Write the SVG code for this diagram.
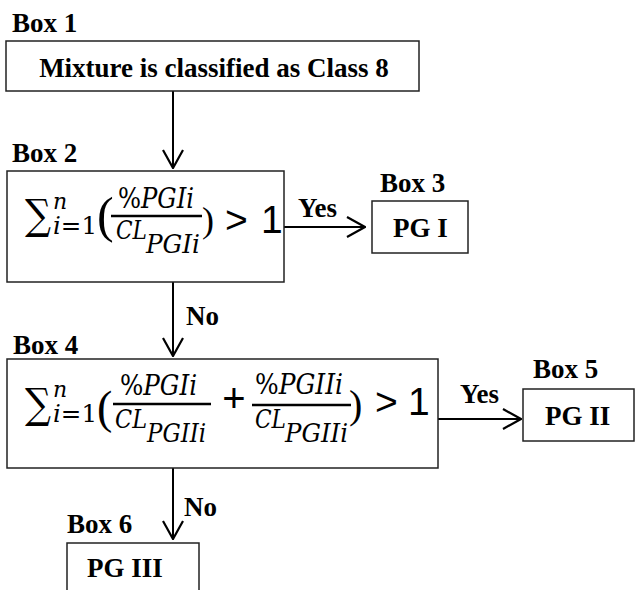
<svg xmlns="http://www.w3.org/2000/svg" width="635" height="590" viewBox="0 0 635 590">
<style>
.box{fill:#fff;stroke:#222;stroke-width:1.5}
.lbl{font-family:"Liberation Serif","Times New Roman",serif;font-weight:bold;font-size:27px;fill:#000}
.mi{font-family:"DejaVu Serif",serif;font-style:italic;fill:#000}
.mu{font-family:"DejaVu Serif",serif;fill:#000}
.mp{font-family:"Liberation Serif","Times New Roman",serif;fill:#000}
.ms{font-family:"Liberation Sans",Arial,sans-serif;fill:#000}
.bar{stroke:#000;stroke-width:2.5}
.conn{stroke:#000;stroke-width:2;fill:none}
</style>
<defs>
<marker id="arr" viewBox="0 0 20 22" refX="19" refY="11" markerWidth="20" markerHeight="22" markerUnits="userSpaceOnUse" orient="auto">
<path d="M1,1 L19,11 L1,21" fill="none" stroke="#000" stroke-width="2.2"/>
</marker>
</defs>
<rect width="635" height="590" fill="#fff"/>

<g id="connectors">
<line class="conn" x1="173" y1="91" x2="173" y2="168" marker-end="url(#arr)"/>
<line class="conn" x1="284" y1="227" x2="365" y2="227" marker-end="url(#arr)"/>
<line class="conn" x1="173" y1="282" x2="173" y2="356" marker-end="url(#arr)"/>
<line class="conn" x1="438" y1="419" x2="521" y2="419" marker-end="url(#arr)"/>
<line class="conn" x1="173" y1="468" x2="173" y2="539" marker-end="url(#arr)"/>
<text class="lbl" x="298" y="217">Yes</text>
<text class="lbl" x="186" y="325">No</text>
<text class="lbl" x="460" y="403">Yes</text>
<text class="lbl" x="184" y="516">No</text>
</g>

<g id="box1">
<text class="lbl" x="12" y="32">Box 1</text>
<rect class="box" x="6" y="41" width="413" height="50"/>
<text class="lbl" x="214" y="77" text-anchor="middle">Mixture is classified as Class 8</text>
</g>

<g id="box2">
<text class="lbl" x="12" y="162">Box 2</text>
<rect class="box" x="7" y="171" width="277" height="111"/>
<text class="mu" x="25" y="229" font-size="42" textLength="26" lengthAdjust="spacingAndGlyphs">∑</text>
<text class="mi" x="53" y="209" font-size="22">n</text>
<text class="mu" x="53" y="234" font-size="25" textLength="44" lengthAdjust="spacingAndGlyphs"><tspan font-style="italic">i</tspan>=1</text>
<text class="mp" x="97" y="232" font-size="50">(</text>
<text class="mi" x="118" y="208" font-size="27" textLength="76" lengthAdjust="spacingAndGlyphs"><tspan font-style="normal">%</tspan>PGIi</text>
<line class="bar" x1="111" y1="216" x2="202" y2="216"/>
<text class="mi" x="116" y="239" font-size="26" textLength="31" lengthAdjust="spacingAndGlyphs">CL</text>
<text class="mi" x="146" y="253" font-size="26" textLength="54" lengthAdjust="spacingAndGlyphs">PGIi</text>
<text class="mp" x="202" y="232" font-size="36">)</text>
<text class="ms" x="225" y="233" font-size="39">&gt;</text>
<text class="ms" x="261" y="233" font-size="39">1</text>
</g>

<g id="box3">
<text class="lbl" x="380" y="192">Box 3</text>
<rect class="box" x="372" y="201" width="96" height="52"/>
<text class="lbl" x="393" y="237">PG I</text>
</g>

<g id="box4">
<text class="lbl" x="13" y="354">Box 4</text>
<rect class="box" x="7" y="359" width="431" height="109"/>
<text class="mu" x="25" y="418" font-size="42" textLength="26" lengthAdjust="spacingAndGlyphs">∑</text>
<text class="mi" x="53" y="397" font-size="22">n</text>
<text class="mu" x="53" y="422" font-size="25" textLength="44" lengthAdjust="spacingAndGlyphs"><tspan font-style="italic">i</tspan>=1</text>
<text class="mp" x="97" y="423" font-size="46">(</text>
<text class="mi" x="120" y="395" font-size="27" textLength="77" lengthAdjust="spacingAndGlyphs"><tspan font-style="normal">%</tspan>PGIi</text>
<line class="bar" x1="113" y1="404" x2="211" y2="404"/>
<text class="mi" x="115" y="428" font-size="26" textLength="32" lengthAdjust="spacingAndGlyphs">CL</text>
<text class="mi" x="147" y="442" font-size="26" textLength="59" lengthAdjust="spacingAndGlyphs">PGIIi</text>
<text class="ms" x="234" y="412" font-size="40" text-anchor="middle">+</text>
<text class="mi" x="255" y="394" font-size="27" textLength="88" lengthAdjust="spacingAndGlyphs"><tspan font-style="normal">%</tspan>PGIIi</text>
<line class="bar" x1="252" y1="405" x2="351" y2="405"/>
<text class="mi" x="255" y="428" font-size="26" textLength="31" lengthAdjust="spacingAndGlyphs">CL</text>
<text class="mi" x="285" y="442" font-size="26" textLength="63" lengthAdjust="spacingAndGlyphs">PGIIi</text>
<text class="mp" x="349" y="418" font-size="40">)</text>
<text class="ms" x="375" y="415" font-size="39">&gt;</text>
<text class="ms" x="408" y="415" font-size="39">1</text>
</g>

<g id="box5">
<text class="lbl" x="533" y="378">Box 5</text>
<rect class="box" x="523" y="389" width="111" height="52"/>
<text class="lbl" x="545" y="425">PG II</text>
</g>

<g id="box6">
<text class="lbl" x="67" y="533">Box 6</text>
<rect class="box" x="67" y="543" width="132" height="60"/>
<text class="lbl" x="87" y="577">PG III</text>
</g>
</svg>
